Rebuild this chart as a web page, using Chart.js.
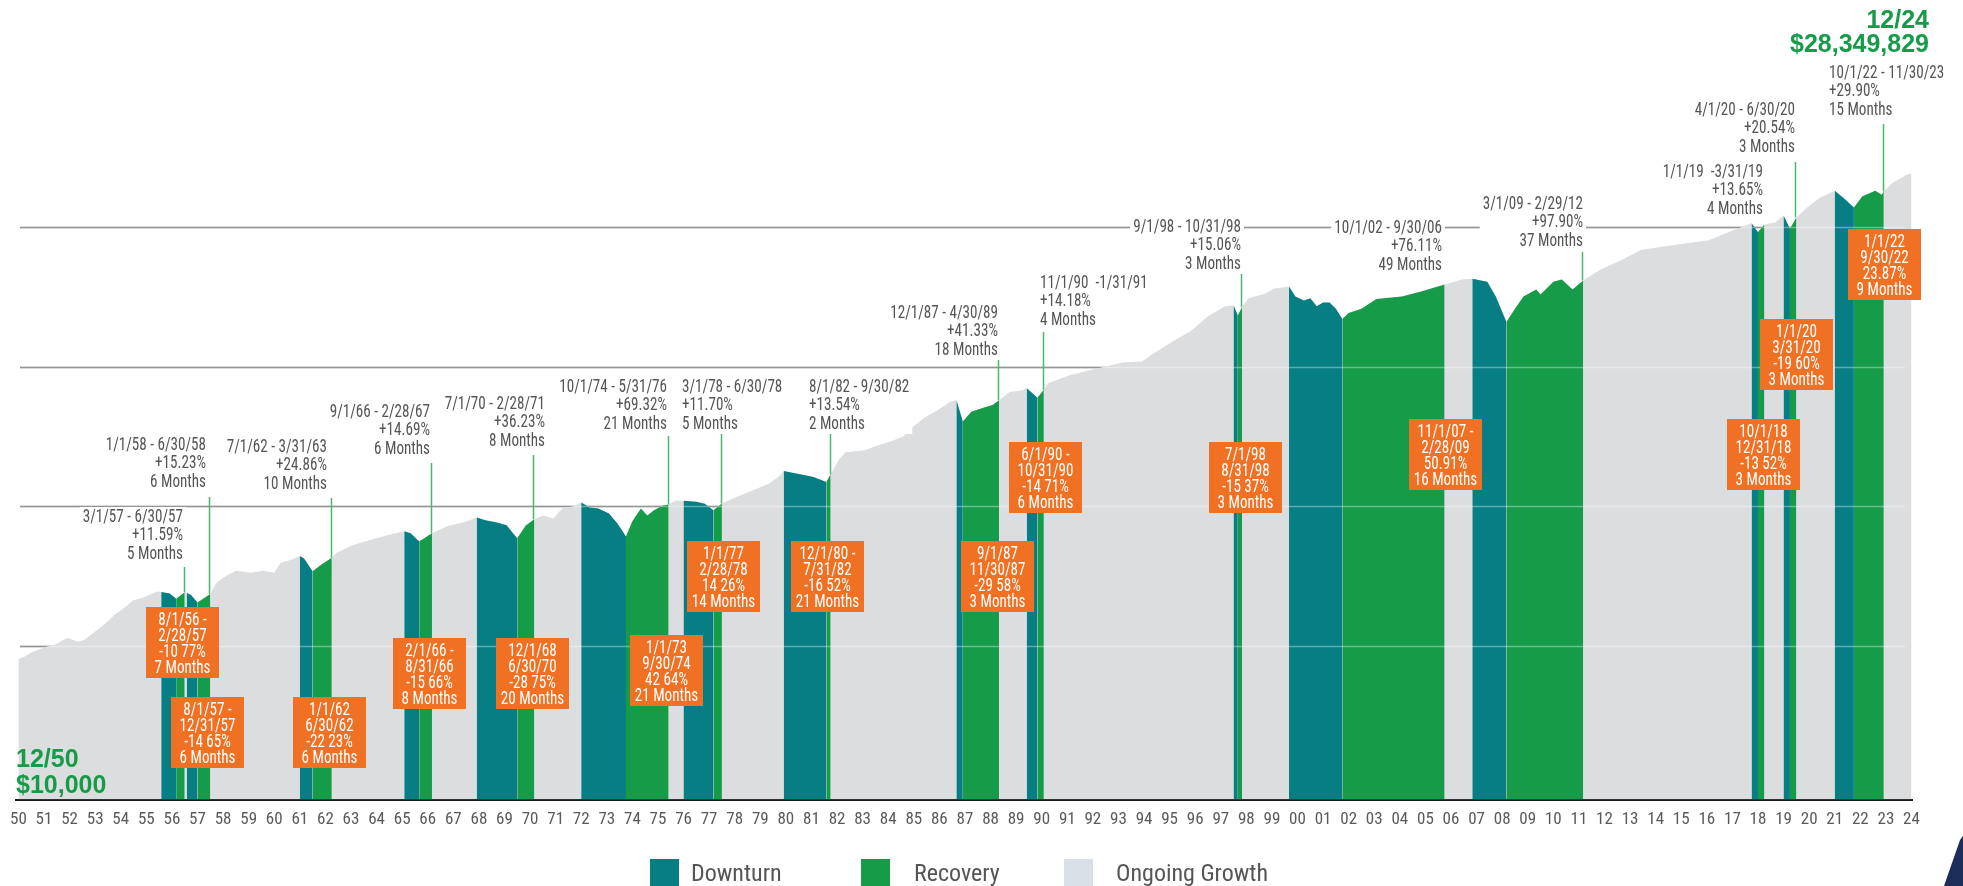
<!DOCTYPE html>
<html>
<head>
<meta charset="utf-8">
<script src="https://cdn.jsdelivr.net/npm/chart.js@4.4.1/dist/chart.umd.min.js"></script>
<style>
html, body { margin: 0; padding: 0; background: #fff; }
#wrap { width: 1963px; height: 886px; }
</style>
</head>
<body>
<div id="wrap"><canvas id="chart-area" width="1963" height="886"></canvas></div>
<script>
// month-end values of $10,000 invested 12/50
var months = [
    '1950-12','1951-03','1951-07','1952-01','1952-05','1952-11','1953-04','1953-07','1953-10','1954-04',
    '1954-09','1955-02','1955-06','1955-11','1956-05','1956-07','1956-11','1957-02','1957-06','1957-07',
    '1957-09','1957-12','1958-06','1958-09','1959-01','1959-06','1960-01','1960-07','1960-12','1961-03',
    '1961-08','1961-12','1962-02','1962-06','1962-10','1963-03','1963-05','1964-01','1964-09','1965-05',
    '1966-01','1966-04','1966-08','1967-02','1967-09','1968-05','1968-11','1969-03','1969-08','1970-01',
    '1970-04','1970-06','1970-10','1971-02','1971-06','1971-11','1972-03','1972-08','1972-12','1973-04',
    '1973-08','1974-01','1974-05','1974-09','1974-12','1975-04','1975-07','1975-10','1976-02','1976-05',
    '1976-08','1976-12','1977-06','1977-10','1978-02','1978-06','1979-01','1979-08','1980-04','1980-09',
    '1980-11','1981-06','1982-01','1982-07','1982-09','1983-01','1983-04','1984-01','1984-06','1985-01',
    '1985-07','1985-11','1986-05','1986-10','1987-05','1987-08','1987-11','1988-03','1988-09','1989-01',
    '1989-04','1989-09','1990-03','1990-05','1990-10','1991-01','1991-03','1992-01','1992-10','1993-08',
    '1994-02','1994-11','1995-05','1996-02','1996-10','1997-06','1998-02','1998-06','1998-08','1998-10',
    '1999-01','1999-09','2000-01','2000-08','2000-11','2001-03','2001-06','2001-09','2001-12','2002-03',
    '2002-06','2002-09','2002-12','2003-06','2004-01','2005-01','2005-10','2006-09','2007-05','2007-10',
    '2008-05','2008-09','2009-02','2009-06','2009-10','2010-04','2010-06','2010-12','2011-04','2011-09',
    '2012-02','2012-10','2013-08','2014-05','2015-02','2015-12','2017-01','2017-10','2018-09','2018-12',
    '2019-03','2019-08','2019-12','2020-03','2020-06','2020-11','2021-05','2021-12','2022-04','2022-09',
    '2023-01','2023-07','2023-10','2023-11','2024-03','2024-10','2024-12'
];
var portfolioValues = [
    10000, 10410, 11290, 12240, 12640, 14160, 13270, 13700, 14860, 17470,
    20530, 23360, 26160, 27450, 30250, 30000, 29280, 26770, 29870, 29500,
    28470, 25180, 29010, 34990, 38550, 42470, 41110, 42470, 41110, 48330,
    50730, 54130, 51800, 42100, 46800, 52560, 56820, 64640, 70080, 75970,
    81060, 78500, 68370, 78410, 87870, 93740, 101600, 96900, 93740, 89270,
    78500, 72390, 89000, 98620, 104960, 100000, 117540, 121400, 129500, 119400,
    117500, 108300, 92100, 74280, 95300, 117500, 105000, 113800, 123000, 125770,
    133300, 133300, 131200, 127000, 114290, 127660, 142700, 157200, 176100, 200400,
    217200, 207000, 197000, 181320, 205870, 263700, 295300, 305000, 325300, 352700,
    382300, 442100, 519700, 572700, 673200, 695300, 489630, 572700, 615000, 640000,
    692000, 791000, 817100, 844000, 719800, 821900, 915000, 1041000, 1129000, 1224000,
    1284000, 1305000, 1510000, 1834000, 2154000, 2745000, 3227000, 3280000, 2775900, 3194000,
    3672000, 3981000, 4316000, 4458000, 3793000, 3550000, 3672000, 3227000, 3434000, 3434000,
    3100000, 2615000, 2895000, 3093000, 3636000, 3793000, 4116000, 4605000, 4992000, 5073000,
    4816000, 3793000, 2490000, 3093000, 3793000, 4248000, 3920000, 4816000, 4992000, 4248000,
    4928000, 5867000, 6896000, 8106000, 8508000, 8930000, 9526000, 10840000, 12540000, 10845000,
    12325000, 12740000, 14270000, 11473000, 13830000, 16230000, 19090000, 21370000, 19090000, 16270000,
    19560000, 21370000, 20000000, 21130000, 24320000, 27900000, 28349829
];

// [month-end before the period, last month of the period]
var downturnPeriods = [
    ['1956-07','1957-02'], ['1957-07','1957-12'], ['1961-12','1962-06'], ['1966-01','1966-08'],
    ['1968-11','1970-06'], ['1972-12','1974-09'], ['1976-12','1978-02'], ['1980-11','1982-07'],
    ['1987-08','1987-11'], ['1990-05','1990-10'], ['1998-06','1998-08'], ['2000-08','2002-09'],
    ['2007-10','2009-02'], ['2018-09','2018-12'], ['2019-12','2020-03'], ['2021-12','2022-09']
];
var recoveryPeriods = [
    ['1957-02','1957-06'], ['1957-12','1958-06'], ['1962-06','1963-03'], ['1966-08','1967-02'],
    ['1970-06','1971-02'], ['1974-09','1976-05'], ['1978-02','1978-06'], ['1982-07','1982-09'],
    ['1987-11','1989-04'], ['1990-10','1991-01'], ['1998-08','1998-10'], ['2002-09','2006-09'],
    ['2009-02','2012-02'], ['2018-12','2019-03'], ['2020-03','2020-06'], ['2022-09','2023-11']
];

var tickLabels = ['50','51','52','53','54','55','56','57','58','59','60','61','62','63','64','65','66','67','68','69',
    '70','71','72','73','74','75','76','77','78','79','80','81','82','83','84','85','86','87','88','89',
    '90','91','92','93','94','95','96','97','98','99','00','01','02','03','04','05','06','07','08','09',
    '10','11','12','13','14','15','16','17','18','19','20','21','22','23','24'];

var recoveryNotes = [
    { lines: ['3/1/57 - 6/30/57', '+11.59%', '5 Months'], x: 183, y: 517, align: 'right', lead: 567 },
    { lines: ['1/1/58 - 6/30/58', '+15.23%', '6 Months'], x: 206, y: 445, align: 'right', lead: 497 },
    { lines: ['7/1/62 - 3/31/63', '+24.86%', '10 Months'], x: 327, y: 447, align: 'right', lead: 498 },
    { lines: ['9/1/66 - 2/28/67', '+14.69%', '6 Months'], x: 430, y: 412, align: 'right', lead: 463 },
    { lines: ['7/1/70 - 2/28/71', '+36.23%', '8 Months'], x: 545, y: 404, align: 'right', lead: 455 },
    { lines: ['10/1/74 - 5/31/76', '+69.32%', '21 Months'], x: 667, y: 387, align: 'right', lead: 436 },
    { lines: ['3/1/78 - 6/30/78', '+11.70%', '5 Months'], x: 682, y: 387, align: 'left', lead: 433 },
    { lines: ['8/1/82 - 9/30/82', '+13.54%', '2 Months'], x: 809, y: 387, align: 'left', lead: 433 },
    { lines: ['12/1/87 - 4/30/89', '+41.33%', '18 Months'], x: 998, y: 313, align: 'right', lead: 359 },
    { lines: ['11/1/90  -1/31/91', '+14.18%', '4 Months'], x: 1040, y: 283, align: 'left', lead: 332 },
    { lines: ['9/1/98 - 10/31/98', '+15.06%', '3 Months'], x: 1241, y: 227, align: 'right', lead: 274 },
    { lines: ['10/1/02 - 9/30/06', '+76.11%', '49 Months'], x: 1442, y: 228, align: 'right', lead: null },
    { lines: ['3/1/09 - 2/29/12', '+97.90%', '37 Months'], x: 1583, y: 204, align: 'right', lead: 252 },
    { lines: ['1/1/19  -3/31/19', '+13.65%', '4 Months'], x: 1763, y: 172, align: 'right', lead: null },
    { lines: ['4/1/20 - 6/30/20', '+20.54%', '3 Months'], x: 1795, y: 110, align: 'right', lead: 162 },
    { lines: ['10/1/22 - 11/30/23', '+29.90%', '15 Months'], x: 1829, y: 73, align: 'left', lead: 124 }
];

var downturnNotes = [
    { lines: ['8/1/56 -', '2/28/57', '-10 77%', '7 Months'], x: 146, y: 607 },
    { lines: ['8/1/57 -', '12/31/57', '-14 65%', '6 Months'], x: 171, y: 697 },
    { lines: ['1/1/62', '6/30/62', '-22 23%', '6 Months'], x: 293, y: 697 },
    { lines: ['2/1/66 -', '8/31/66', '-15 66%', '8 Months'], x: 393, y: 638 },
    { lines: ['12/1/68', '6/30/70', '-28 75%', '20 Months'], x: 496, y: 638 },
    { lines: ['1/1/73', '9/30/74', '42 64%', '21 Months'], x: 630, y: 635 },
    { lines: ['1/1/77', '2/28/78', '14 26%', '14 Months'], x: 687, y: 541 },
    { lines: ['12/1/80 -', '7/31/82', '-16 52%', '21 Months'], x: 791, y: 541 },
    { lines: ['9/1/87', '11/30/87', '-29 58%', '3 Months'], x: 961, y: 541 },
    { lines: ['6/1/90 -', '10/31/90', '-14 71%', '6 Months'], x: 1009, y: 442 },
    { lines: ['7/1/98', '8/31/98', '-15 37%', '3 Months'], x: 1209, y: 442 },
    { lines: ['11/1/07 -', '2/28/09', '50.91%', '16 Months'], x: 1409, y: 419 },
    { lines: ['10/1/18', '12/31/18', '-13 52%', '3 Months'], x: 1727, y: 419 },
    { lines: ['1/1/20', '3/31/20', '-19 60%', '3 Months'], x: 1760, y: 319 },
    { lines: ['1/1/22', '9/30/22', '23.87%', '9 Months'], x: 1848, y: 229 }
];

var gridValues = [12400, 122000, 1190000, 11900000];

var NARROW = "'Liberation Sans Narrow', 'Arial Narrow', 'Roboto Condensed', 'DejaVu Sans Condensed', sans-serif";
var SQUEEZE = 0.84;
var TEAL = '#067e84', GREEN = '#169c49', GREY = '#dcdddf', ORANGE = '#f07124', TEXT = '#555555';

function toYear(m) {
    var p = m.split('-');
    return +p[0] + (+p[1]) / 12;
}
function inPeriods(m, periods) {
    var t = toYear(m);
    return periods.some(function (p) { return t >= toYear(p[0]) - 1e-6 && t <= toYear(p[1]) + 1e-6; });
}
function seriesFor(periods) {
    return months.map(function (m, i) {
        return { x: toYear(m), y: (!periods || inPeriods(m, periods)) ? portfolioValues[i] : null };
    });
}
// narrow text: squeeze the glyphs horizontally
function narrowText(ctx, s, x, y) {
    ctx.fillText(s, x, y, ctx.measureText(s).width * SQUEEZE);
}

var notesPlugin = {
    id: 'notes',
    beforeDatasetsDraw: function (chart) {
        var ctx = chart.ctx, y = chart.scales.y;
        ctx.save();
        ctx.strokeStyle = '#5f5f5f';
        ctx.lineWidth = 1.5;
        gridValues.forEach(function (v) {
            var py = Math.round(y.getPixelForValue(v)) + 0.5;
            ctx.beginPath(); ctx.moveTo(20, py); ctx.lineTo(1905, py); ctx.stroke();
        });
        ctx.restore();
    },
    afterDatasetsDraw: function (chart) {
        var ctx = chart.ctx, xs = chart.scales.x, ys = chart.scales.y;
        ctx.save();
        // faint grid lines across the areas
        ctx.strokeStyle = 'rgba(255,255,255,0.35)';
        ctx.lineWidth = 1.5;
        gridValues.forEach(function (v) {
            var py = Math.round(ys.getPixelForValue(v)) + 0.5;
            ctx.beginPath(); ctx.moveTo(20, py); ctx.lineTo(1905, py); ctx.stroke();
        });

        // leader lines to the end of each recovery
        ctx.strokeStyle = '#4cb56f';
        ctx.lineWidth = 1.5;
        recoveryNotes.forEach(function (n, k) {
            if (n.lead === null) return;
            var end = recoveryPeriods[k][1];
            var px = Math.round(xs.getPixelForValue(toYear(end))) - 0.5;
            var py = ys.getPixelForValue(portfolioValues[months.indexOf(end)]);
            ctx.beginPath(); ctx.moveTo(px, n.lead); ctx.lineTo(px, py); ctx.stroke();
        });

        // recovery notes
        ctx.font = '18px ' + NARROW;
        ctx.textBaseline = 'middle';
        recoveryNotes.forEach(function (n) {
            var w = SQUEEZE * Math.max.apply(null, n.lines.map(function (l) { return ctx.measureText(l).width; }));
            var left = n.align === 'right' ? n.x - w : n.x;
            ctx.fillStyle = '#fff';
            ctx.fillRect(left - 3, n.y - 10, w + 6, (n.lines.length - 1) * 18.5 + 20);
            ctx.fillStyle = TEXT;
            ctx.textAlign = n.align;
            n.lines.forEach(function (l, i) { narrowText(ctx, l, n.x, n.y + i * 18.5); });
        });

        // downturn boxes
        ctx.textAlign = 'center';
        downturnNotes.forEach(function (n) {
            ctx.fillStyle = ORANGE;
            ctx.fillRect(n.x, n.y, 73, 71);
            ctx.fillStyle = '#fff';
            n.lines.forEach(function (l, i) { narrowText(ctx, l, n.x + 36.5, n.y + 13.5 + i * 16); });
        });

        // start / end values
        ctx.fillStyle = GREEN;
        ctx.font = "bold 25px 'Liberation Sans', Arial, sans-serif";
        ctx.textAlign = 'left';
        ctx.fillText('12/50', 16, 760);
        ctx.fillText('$10,000', 16, 786);
        ctx.textAlign = 'right';
        ctx.fillText('12/24', 1929, 21);
        ctx.fillText('$28,349,829', 1929, 45);

        // legend
        var legend = [['Downturn', TEAL, 650, 691], ['Recovery', GREEN, 861, 914], ['Ongoing Growth', '#d9dfe6', 1064, 1116]];
        ctx.font = '24px ' + NARROW;
        ctx.textAlign = 'left';
        legend.forEach(function (l) {
            ctx.fillStyle = l[1];
            ctx.fillRect(l[2], 859, 29, 29);
            ctx.fillStyle = TEXT;
            ctx.fillText(l[0], l[3], 875);
        });

        // corner mark
        ctx.fillStyle = '#1c2d5a';
        ctx.beginPath();
        ctx.moveTo(1960, 840); ctx.lineTo(1963, 836); ctx.lineTo(1963, 886); ctx.lineTo(1944, 886);
        ctx.closePath(); ctx.fill();
        ctx.restore();
    }
};

var config = {
    type: 'line',
    data: {
        datasets: [{
            label: 'Downturn',
            data: seriesFor(downturnPeriods),
            backgroundColor: TEAL,
            borderColor: 'rgba(0,0,0,0)',
            borderWidth: 0,
            fill: 'start',
            order: 1
        }, {
            label: 'Recovery',
            data: seriesFor(recoveryPeriods),
            backgroundColor: GREEN,
            borderColor: 'rgba(0,0,0,0)',
            borderWidth: 0,
            fill: 'start',
            order: 2
        }, {
            label: 'Ongoing Growth',
            data: seriesFor(null),
            backgroundColor: GREY,
            borderColor: 'rgba(0,0,0,0)',
            borderWidth: 0,
            fill: 'start',
            order: 3
        }]
    },
    options: {
        responsive: false,
        animation: false,
        spanGaps: false,
        elements: { point: { radius: 0 }, line: { tension: 0 } },
        layout: { padding: { left: 12, right: 51, top: 30, bottom: 46 } },
        plugins: { legend: { display: false }, tooltip: { enabled: false } },
        scales: {
            x: {
                type: 'linear',
                min: 1950.92,
                max: 2025.02,
                afterBuildTicks: function (scale) {
                    scale.ticks = tickLabels.map(function (l, i) { return { value: 1951 + i }; });
                },
                ticks: {
                    autoSkip: false,
                    maxRotation: 0,
                    padding: 10,
                    color: '#5a5a5a',
                    font: { family: NARROW, size: 17 },
                    callback: function (v) { return tickLabels[Math.round(v - 1951)]; }
                },
                grid: { display: false, drawTicks: false },
                border: { display: true, color: '#1a1a1a', width: 2 }
            },
            y: {
                type: 'logarithmic',
                min: 1000,
                max: 2.976e8,
                display: false
            }
        }
    },
    plugins: [notesPlugin]
};

var ctx = document.getElementById('chart-area').getContext('2d');
var growthChart = new Chart(ctx, config);
</script>
</body>
</html>
